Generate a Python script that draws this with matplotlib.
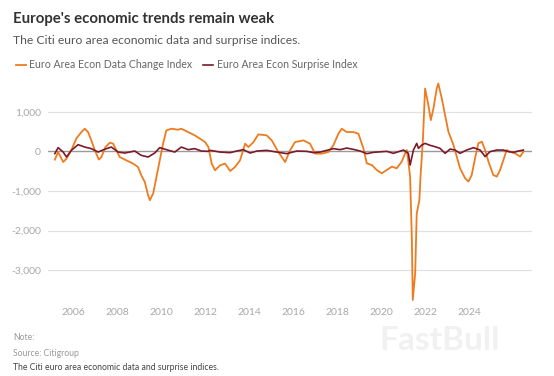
import matplotlib
matplotlib.use("Agg")
import matplotlib.pyplot as plt
from matplotlib.ticker import FuncFormatter

# values (x in chart years, y in index points)
data_change_x = [2005.17, 2005.32, 2005.55, 2005.70, 2005.92, 2006.15, 2006.38, 2006.53, 2006.68, 2006.83,
                 2006.99, 2007.17, 2007.29, 2007.47, 2007.67, 2007.82, 2007.97, 2008.12, 2008.42, 2008.73,
                 2008.95, 2009.10, 2009.26, 2009.41, 2009.49, 2009.64, 2009.79, 2009.94, 2010.09, 2010.24,
                 2010.47, 2010.77, 2010.92, 2011.23, 2011.53, 2011.77, 2012.00, 2012.15, 2012.30, 2012.45,
                 2012.68, 2012.91, 2013.14, 2013.36, 2013.59, 2013.82, 2013.97, 2014.20, 2014.42, 2014.80,
                 2015.03, 2015.33, 2015.64, 2015.86, 2016.09, 2016.47, 2016.77, 2017.00, 2017.30, 2017.60,
                 2017.83, 2018.06, 2018.21, 2018.44, 2018.74, 2018.97, 2019.20, 2019.35, 2019.58, 2019.80,
                 2020.03, 2020.26, 2020.49, 2020.71, 2020.94, 2021.09, 2021.17, 2021.24, 2021.32, 2021.40,
                 2021.44, 2021.55, 2021.62, 2021.74, 2021.80, 2021.90, 2022.00, 2022.15, 2022.26, 2022.38,
                 2022.53, 2022.60, 2022.76, 2022.91, 2023.06, 2023.29, 2023.44, 2023.59, 2023.82, 2023.97,
                 2024.12, 2024.27, 2024.42, 2024.58, 2024.73, 2024.88, 2025.10, 2025.26, 2025.41, 2025.56,
                 2025.71, 2025.86, 2026.09, 2026.32, 2026.47]
data_change = [-209, -18, -269, -184, 25, 327, 486, 571, 486, 277,
               25, -209, -143, 108, 219, 194, 25, -143, -226, -309,
               -395, -604, -772, -1107, -1233, -1064, -647, -226, 194, 528,
               571, 546, 571, 486, 403, 320, 234, 108, -309, -478,
               -352, -309, -496, -395, -226, 194, 108, 234, 428, 403,
               277, -18, -269, 25, 234, 277, 194, -58, -58, -18,
               151, 445, 571, 486, 486, 445, 68, -302, -345, -470,
               -554, -470, -385, -428, -259, -50, 33, -259, -647, -2239,
               -3749, -3077, -1568, -1233, -561, 277, 1585, 1165, 787, 1082,
               1585, 1711, 1333, 913, 496, 159, -133, -428, -679, -762,
               -596, -176, 201, 244, 33, -259, -596, -637, -470, -219,
               33, -8, -50, -133, -8]

surprise_x = [2005.17, 2005.32, 2005.55, 2005.70, 2005.92, 2006.23, 2006.53, 2006.83, 2007.14, 2007.42,
              2007.74, 2008.05, 2008.35, 2008.80, 2009.10, 2009.41, 2009.71, 2009.94, 2010.24, 2010.62,
              2010.92, 2011.23, 2011.53, 2011.83, 2012.14, 2012.23, 2012.68, 2013.14, 2013.44, 2013.74,
              2014.05, 2014.35, 2014.80, 2015.26, 2015.71, 2016.17, 2016.62, 2016.92, 2017.23, 2017.53,
              2017.83, 2018.14, 2018.44, 2018.74, 2019.05, 2019.35, 2019.65, 2020.26, 2020.56, 2021.02,
              2021.24, 2021.32, 2021.47, 2021.62, 2021.70, 2021.85, 2022.00, 2022.23, 2022.45, 2022.68,
              2022.91, 2023.14, 2023.36, 2023.59, 2023.89, 2024.20, 2024.50, 2024.73, 2024.95, 2025.26,
              2025.56, 2025.79, 2026.02, 2026.24, 2026.47]
surprise = [-58, 93, -18, -143, 25, 169, 108, 68, -18, 50,
            108, -18, -43, 8, -101, -143, -43, 93, 43, -18,
            108, 43, 68, 8, 0, 25, -18, -33, 8, 43,
            -43, 8, 25, -18, -58, 8, 0, -33, -18, 25,
            68, 43, 83, 50, 8, -58, -25, 0, -50, 33,
            -50, -345, 33, 201, 75, 159, 201, 151, 118, 75,
            -50, 58, 33, -50, 33, 93, 33, -133, -8, 33,
            33, -8, -25, 8, 33]

year_ticks = [2006, 2008, 2010, 2012, 2014, 2016, 2018, 2020, 2022, 2024]
value_ticks = [-3000, -2000, -1000, 0, 1000]

plt.rcParams['font.family'] = ['Lato', 'DejaVu Sans']

fig = plt.figure(figsize=(5.54, 3.76), dpi=100)
fig.patch.set_facecolor('white')
ax = fig.add_axes([48/554, 1 - 302/376, 484/554, 224/376])

for v in value_ticks:
    if v == 0:
        ax.axhline(v, color='#9a9a9a', lw=1.0, zorder=1)
    else:
        ax.axhline(v, color='#e2e2e2', lw=0.9, zorder=1)

ax.plot(data_change_x, data_change, color='#ef7b1f', lw=1.3, zorder=3,
        label='Euro Area Econ Data Change Index')
ax.plot(surprise_x, surprise, color='#7a1a2a', lw=1.2, zorder=4,
        label='Euro Area Econ Surprise Index')

ax.set_xlim(2004.86, 2026.86)
ax.set_ylim(-3800, 1850)
ax.set_xticks(year_ticks)
ax.set_yticks(value_ticks)
ax.yaxis.set_major_formatter(FuncFormatter(lambda v, p: f"{v:,.0f}"))
ax.tick_params(axis='both', length=0, labelsize=7.5, labelcolor='#a8a8a8')
ax.tick_params(axis='x', pad=4)
ax.tick_params(axis='y', pad=5)
for s in ax.spines.values():
    s.set_visible(False)

fig.text(13/554, 1 - 19/376, "Europe's economic trends remain weak", fontsize=10.8,
         fontweight='bold', color='#333333', va='center')
fig.text(13/554, 1 - 41/376, "The Citi euro area economic data and surprise indices.",
         fontsize=8.7, color='#555555', va='center')
fig.legend(loc='center left', bbox_to_anchor=(6/554, 1 - 65/376), ncol=2, frameon=False,
           fontsize=7.6, handlelength=1.0, handletextpad=0.3, columnspacing=1.0,
           labelcolor='#666666')

fig.text(13/554, 1 - 337/376, "Note:", fontsize=6.2, color='#999999', va='center')
fig.text(13/554, 1 - 353/376, "Source: Citigroup", fontsize=6.2, color='#999999', va='center')
fig.text(13/554, 1 - 368/376, "The Citi euro area economic data and surprise indices.",
         fontsize=6.2, color='#444444', va='center')
fig.text(440/554, 1 - 340/376, "FastBull", fontsize=24, fontweight='bold', color='#f1f1f1',
         ha='center', va='center', zorder=0)

fig.savefig('out.png', dpi=100)
